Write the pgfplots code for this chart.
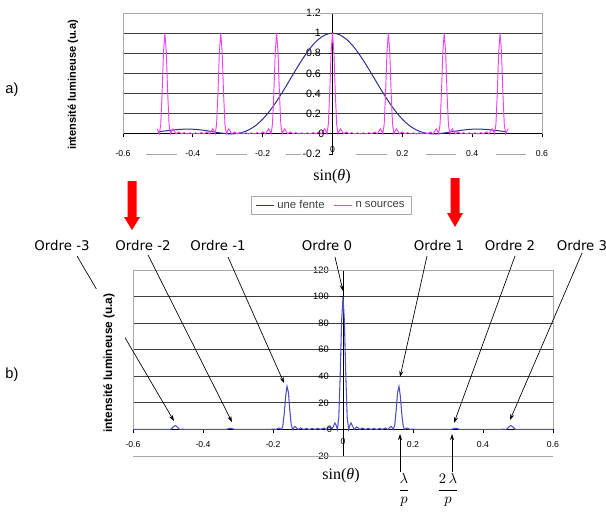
\documentclass[border=0pt]{standalone}
\usepackage{pgfplots}
\pgfplotsset{compat=1.18}
\usepackage{pgfplotstable}
\usepackage{fontspec}
\setmainfont{Liberation Sans}
\newfontfamily\serif{Liberation Serif}
\newfontfamily\ordre{DejaVu Sans}
\usetikzlibrary{arrows.meta}

\definecolor{fente}{HTML}{30308A}
\definecolor{sources}{HTML}{F040F0}
\definecolor{reseau}{HTML}{5050C4}
\definecolor{cadre}{HTML}{A8A8A8}
\definecolor{grille}{HTML}{3C3C3C}
\definecolor{legtext}{HTML}{404040}
\definecolor{rouge}{HTML}{FF0000}

% single slit envelope, sinc^2
\pgfplotstableread{
x e
-0.50 0.0199
-0.48 0.0289
-0.46 0.0374
-0.44 0.0439
-0.42 0.0470
-0.40 0.0460
-0.38 0.0403
-0.36 0.0311
-0.34 0.0195
-0.32 0.0085
-0.30 0.0011
-0.29 0
-0.28 0.0013
-0.26 0.0130
-0.24 0.0393
-0.22 0.0830
-0.20 0.1456
-0.18 0.2270
-0.16 0.3243
-0.14 0.4334
-0.12 0.5494
-0.10 0.6649
-0.08 0.7730
-0.06 0.8669
-0.04 0.9390
-0.02 0.9845
0.00 1
0.02 0.9845
0.04 0.9390
0.06 0.8669
0.08 0.7730
0.10 0.6649
0.12 0.5494
0.14 0.4334
0.16 0.3243
0.18 0.2270
0.20 0.1456
0.22 0.0830
0.24 0.0393
0.26 0.0130
0.28 0.0013
0.29 0
0.30 0.0011
0.32 0.0085
0.34 0.0195
0.36 0.0311
0.38 0.0403
0.40 0.0460
0.42 0.0470
0.44 0.0439
0.46 0.0374
0.48 0.0289
0.50 0.0199
}\fentetable

% g: n sources alone, b: grating times envelope (x100)
\pgfplotstableread{
x g b
-0.600 0 0
-0.560 0 0
-0.512 0 0
-0.507 0.027 0.04
-0.503 0.050 0.09
-0.500 0.034 0.07
-0.496 0 0
-0.492 0.092 0.22
-0.488 0.405 1.03
-0.484 0.813 2.21
-0.480 1 2.89
-0.476 0.813 2.49
-0.472 0.405 1.31
-0.468 0.092 0.31
-0.464 0 0
-0.460 0.034 0.13
-0.457 0.050 0.19
-0.453 0.027 0.11
-0.448 0 0
-0.441 0.020 0.09
-0.432 0 0
-0.425 0.012 0.06
-0.416 0 0
-0.408 0.010 0.05
-0.400 0 0
-0.392 0.010 0.04
-0.384 0 0
-0.375 0.012 0.05
-0.368 0 0
-0.359 0.020 0.06
-0.352 0 0
-0.347 0.027 0.06
-0.343 0.050 0.11
-0.340 0.034 0.07
-0.336 0 0
-0.332 0.092 0.14
-0.328 0.405 0.51
-0.324 0.813 0.85
-0.320 1 0.85
-0.316 0.813 0.55
-0.312 0.405 0.21
-0.308 0.092 0.04
-0.304 0 0
-0.300 0.034 0
-0.297 0.050 0
-0.293 0.027 0
-0.288 0 0
-0.281 0.020 0
-0.272 0 0
-0.265 0.012 0.01
-0.256 0 0
-0.248 0.010 0.03
-0.240 0 0
-0.232 0.010 0.06
-0.224 0 0
-0.215 0.012 0.12
-0.208 0 0
-0.199 0.020 0.30
-0.192 0 0
-0.187 0.027 0.53
-0.183 0.050 1.07
-0.180 0.034 0.77
-0.176 0 0
-0.172 0.092 2.44
-0.168 0.405 11.5
-0.164 0.813 24.7
-0.160 1 32.4
-0.156 0.813 28.0
-0.152 0.405 14.8
-0.148 0.092 3.56
-0.144 0 0
-0.140 0.034 1.47
-0.137 0.050 2.25
-0.133 0.027 1.28
-0.128 0 0
-0.121 0.020 1.09
-0.112 0 0
-0.105 0.012 0.76
-0.096 0 0
-0.088 0.010 0.73
-0.080 0 0
-0.072 0.010 0.81
-0.064 0 0
-0.055 0.012 1.06
-0.048 0 0
-0.039 0.020 1.88
-0.032 0 0
-0.027 0.027 2.62
-0.023 0.050 4.90
-0.020 0.034 3.35
-0.016 0 0
-0.012 0.092 9.2
-0.008 0.405 40.5
-0.004 0.813 81.3
0.000 1 100
0.004 0.813 81.3
0.008 0.405 40.5
0.012 0.092 9.2
0.016 0 0
0.020 0.034 3.35
0.023 0.050 4.90
0.027 0.027 2.62
0.032 0 0
0.039 0.020 1.88
0.048 0 0
0.055 0.012 1.06
0.064 0 0
0.072 0.010 0.81
0.080 0 0
0.088 0.010 0.73
0.096 0 0
0.105 0.012 0.76
0.112 0 0
0.121 0.020 1.09
0.128 0 0
0.133 0.027 1.28
0.137 0.050 2.25
0.140 0.034 1.47
0.144 0 0
0.148 0.092 3.56
0.152 0.405 14.8
0.156 0.813 28.0
0.160 1 32.4
0.164 0.813 24.7
0.168 0.405 11.5
0.172 0.092 2.44
0.176 0 0
0.180 0.034 0.77
0.183 0.050 1.07
0.187 0.027 0.53
0.192 0 0
0.199 0.020 0.30
0.208 0 0
0.215 0.012 0.12
0.224 0 0
0.232 0.010 0.06
0.240 0 0
0.248 0.010 0.03
0.256 0 0
0.265 0.012 0.01
0.272 0 0
0.281 0.020 0
0.288 0 0
0.293 0.027 0
0.297 0.050 0
0.300 0.034 0
0.304 0 0
0.308 0.092 0.04
0.312 0.405 0.21
0.316 0.813 0.55
0.320 1 0.85
0.324 0.813 0.85
0.328 0.405 0.51
0.332 0.092 0.14
0.336 0 0
0.340 0.034 0.07
0.343 0.050 0.11
0.347 0.027 0.06
0.352 0 0
0.359 0.020 0.06
0.368 0 0
0.375 0.012 0.05
0.384 0 0
0.392 0.010 0.04
0.400 0 0
0.408 0.010 0.05
0.416 0 0
0.425 0.012 0.06
0.432 0 0
0.441 0.020 0.09
0.448 0 0
0.453 0.027 0.11
0.457 0.050 0.19
0.460 0.034 0.13
0.464 0 0
0.468 0.092 0.31
0.472 0.405 1.31
0.476 0.813 2.49
0.480 1 2.89
0.484 0.813 2.21
0.488 0.405 1.03
0.492 0.092 0.22
0.496 0 0
0.500 0.034 0.07
0.503 0.050 0.09
0.507 0.027 0.04
0.512 0 0
0.560 0 0
0.600 0 0
}\reseautable

\begin{document}
\begin{tikzpicture}[x=0.75pt,y=-0.75pt]
\path[use as bounding box] (0,0) rectangle (606,512);

% ---- a) one slit and n sources ----
\begin{axis}[
  at={(92.25pt,-115.5pt)}, anchor=south west,
  scale only axis, width=314.25pt, height=105.75pt,
  xmin=-0.6, xmax=0.6, ymin=-0.2, ymax=1.2,
  axis lines=center, axis line style={black, line width=0.7pt, -},
  clip=false,
  xtick={-0.6,-0.4,-0.2,0,0.2,0.4,0.6},
  ytick={0,0.2,0.4,0.6,0.8,1},
  extra y ticks={-0.2,1.2}, extra y tick style={grid=none},
  ymajorgrids, major grid style={grille, line width=0.8pt},
  tick align=outside, major tick length=2.5pt,
  tick style={black, line width=0.6pt},
  /pgf/number format/assume math mode=true,
  xticklabel style={font=\fontsize{6.5}{7}\selectfont, anchor=center, yshift=-12pt},
  yticklabel style={font=\fontsize{8}{9}\selectfont, anchor=east, inner sep=0pt, xshift=-6pt},
  legend columns=2,
  legend style={at={(axis description cs:0.4976,-0.365)}, anchor=center,
    draw=cadre, line width=0.6pt, font=\fontsize{8.5}{9}\selectfont, text=legtext,
    inner xsep=3pt, inner ysep=1pt,
    /tikz/every even column/.append style={column sep=5pt}},
  legend image code/.code={\draw[#1] (0pt,0pt) -- (13.5pt,0pt);},
]
\draw[cadre, line width=0.7pt] (axis cs:-0.6,0) -- (axis cs:-0.6,1.2) -- (axis cs:0.6,1.2) -- (axis cs:0.6,0);
\draw[cadre, line width=0.7pt] (axis cs:-0.533,-0.2) -- (axis cs:-0.445,-0.2);
\draw[cadre, line width=0.7pt] (axis cs:-0.333,-0.2) -- (axis cs:-0.245,-0.2);
\draw[cadre, line width=0.7pt] (axis cs:-0.133,-0.2) -- (axis cs:-0.090,-0.2);
\draw[cadre, line width=0.7pt] (axis cs:0.067,-0.2) -- (axis cs:0.155,-0.2);
\draw[cadre, line width=0.7pt] (axis cs:0.267,-0.2) -- (axis cs:0.355,-0.2);
\draw[cadre, line width=0.7pt] (axis cs:0.467,-0.2) -- (axis cs:0.555,-0.2);
\addplot[fente, line width=0.75pt, smooth] table[x=x, y=e] {\fentetable};
\addplot[sources, line width=0.7pt, restrict x to domain=-0.504:0.504] table[x=x, y=g] {\reseautable};
\legend{une fente, n sources}
% origin labels, which the centred axis lines leave out
\node[font=\fontsize{6.5}{7}\selectfont, anchor=center, yshift=-12pt] at (axis cs:0,0) {0};
\node[font=\fontsize{8}{9}\selectfont, anchor=east, inner sep=0pt, xshift=-6pt] at (axis cs:0,0) {0};
\end{axis}

% ---- b) grating ----
\begin{axis}[
  at={(99.75pt,-342pt)}, anchor=south west,
  scale only axis, width=315pt, height=139.5pt,
  xmin=-0.6, xmax=0.6, ymin=-20, ymax=120,
  axis lines=center, axis line style={black, line width=0.7pt, -},
  clip=false,
  xtick={-0.6,-0.4,-0.2,0,0.2,0.4,0.6},
  ytick={0,20,40,60,80,100},
  extra y ticks={-20,120}, extra y tick style={grid=none},
  ymajorgrids, major grid style={grille, line width=0.8pt},
  tick align=outside, major tick length=2.5pt,
  tick style={black, line width=0.6pt},
  /pgf/number format/assume math mode=true,
  xticklabel style={font=\fontsize{6.5}{7}\selectfont, anchor=center, yshift=-9pt},
  yticklabel style={font=\fontsize{7}{8}\selectfont, anchor=east, inner sep=0pt, xshift=-8pt},
]
\draw[cadre, line width=0.7pt] (axis cs:-0.6,0) -- (axis cs:-0.6,120) -- (axis cs:0.6,120) -- (axis cs:0.6,0);
\draw[cadre, line width=0.7pt] (axis cs:-0.6,-20) -- (axis cs:0.6,-20);
\addplot[reseau, line width=0.8pt] table[x=x, y=b] {\reseautable};
\node[font=\fontsize{6.5}{7}\selectfont, anchor=center, yshift=-9pt] at (axis cs:0,0) {0};
\node[font=\fontsize{7}{8}\selectfont, anchor=east, inner sep=0pt, xshift=-8pt] at (axis cs:0,0) {0};
\end{axis}

% ---- labels ----
\node[font=\fontsize{11}{13}\selectfont] at (12,90) {a)};
\node[font=\fontsize{11}{13}\selectfont] at (12,375) {b)};
\node[rotate=90, font=\fontsize{8.3}{10}\selectfont\bfseries] at (73,85) {intensité lumineuse (u.a)};
\node[font=\serif\fontsize{12}{14}\selectfont] at (332,177) {sin(\textit{θ})};
\node[font=\serif\fontsize{12}{14}\selectfont] at (341,476) {sin(\textit{θ})};

% red arrows between the two charts
\fill[rouge] (127.5,181) -- (136.5,181) -- (136.5,217) -- (140,217) -- (132,230) -- (124,217) -- (127.5,217) -- cycle;
\fill[rouge] (450.5,178) -- (459.5,178) -- (459.5,213) -- (463,213) -- (455,227) -- (447,213) -- (450.5,213) -- cycle;

% diffraction orders
\begin{scope}[font=\ordre\fontsize{10}{12}\selectfont]
\node at (62,246) {Ordre -3};
\node at (143,246) {Ordre -2};
\node at (218,246) {Ordre -1};
\node at (327,246) {Ordre 0};
\node at (439,246) {Ordre 1};
\node at (510,246) {Ordre 2};
\node at (582,246) {Ordre 3};
\end{scope}
\begin{scope}[line width=0.5pt, -{Stealth[length=4.5pt, width=3pt]}]
\draw (77,256) -- (174,421);
\draw (148,255) -- (232,422);
\draw (228,257) -- (284,383);
\draw (335,257) -- (343,291);
\draw (427,256) -- (400,377);
\draw (515,256) -- (454,423);
\draw (582,253) -- (510,420);
\draw (400,472) -- (400,434);
\draw (452,472) -- (452,434);
\end{scope}
\node[rotate=90, fill=white, inner xsep=3pt, inner ysep=8pt, font=\fontsize{8.9}{10}\selectfont\bfseries] at (109,363) {intensité lumineuse (u.a)};
\node[font=\fontsize{11}{13}\selectfont] at (404,490) {$\displaystyle\frac{\lambda}{p}$};
\node[font=\fontsize{11}{13}\selectfont] at (448,490) {$\displaystyle\frac{2\,\lambda}{p}$};
\end{tikzpicture}
\end{document}
